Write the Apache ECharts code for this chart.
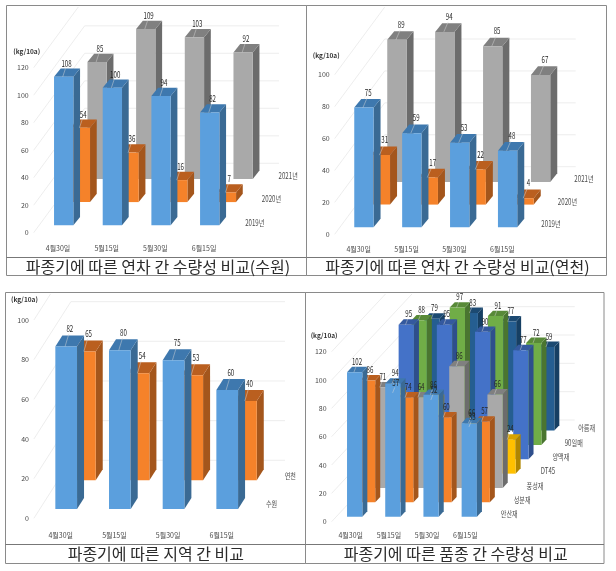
<!DOCTYPE html>
<html><head><meta charset="utf-8">
<style>html,body{margin:0;padding:0;background:#fff}#c{width:616px;height:571px;filter:blur(0.35px)}</style>
<script src="https://cdn.jsdelivr.net/npm/echarts@6/dist/echarts.min.js"></script>
</head><body><div id="c"></div>
<script>
const dates = ['4월30일','5월15일','5월30일','6월15일'];

const suwon2019 = [108,100,94,82];
const suwon2020 = [54,36,16,7];
const suwon2021 = [85,109,103,92];

const yeoncheon2019 = [75,59,53,48];
const yeoncheon2020 = [31,17,22,4];
const yeoncheon2021 = [89,94,85,67];

const regionSuwon = [82,80,75,60];
const regionYeoncheon = [65,54,53,40];

const ansan = [102,94,86,66];
const seongbun = [86,74,60,57];
const pungseong = [71,64,86,66];
const dt45 = [57,52,33,24];
const yangmaek = [95,95,90,77];
const day90 = [88,97,91,72];
const areum = [79,83,77,59];

const C = {
  sky:   ['#5B9FDD','#3A6A94','#3E78AE'],
  orange:['#F5822A','#A4561C','#BA5F1F'],
  gray:  ['#A9A9A9','#6C6C6C','#808080'],
  yellow:['#FFC000','#B08600','#D8A300'],
  blue:  ['#4472C8','#2E4F8C','#34599E'],
  green: ['#70AD47','#4A7530','#588A38'],
  navy:  ['#255E91','#163F63','#1C4A72']
};
const TXT = '#4a4a4a';
const FONT = '"Noto Sans CJK KR","Liberation Sans",sans-serif';

const panels = [
 {title:'파종기에 따른 연차 간 수량성 비교(수원)', cx:158, cy:257.5,
  left:33.7,width:194.7,y0:232.7,yTop:67.7,yMax:120,nameGap:12.7,namePad:14,catMargin:12,
  barW:19.3,barOff:-4,front:-7.4,stepX:16.7,stepY:-23.2,sideX:6.7,sideY:8.3,
  wall:{dx:51,dy:-69.4,right:279,max:100,top:7},lbl:[12.5,-13.5],tag:[54.7,-3],
  rows:[['2021년',suwon2021,C.gray],['2020년',suwon2020,C.orange],['2019년',suwon2019,C.sky]]},
 {title:'파종기에 따른 연차 간 수량성 비교(연천)', cx:457.5, cy:257.5,
  left:334.7,width:191.6,y0:234.3,yTop:74.7,yMax:100,nameGap:16,namePad:17,catMargin:11.5,
  barW:19.3,barOff:-4.4,front:-7,stepX:16.5,stepY:-22.7,sideX:7,sideY:8.6,
  wall:{dx:50,dy:-67.6,right:575.7,max:80,top:7},lbl:[14,-15],tag:[53,-3.3],
  rows:[['2021년',yeoncheon2021,C.gray],['2020년',yeoncheon2020,C.orange],['2019년',yeoncheon2019,C.sky]]},
 {title:'파종기에 따른 지역 간 비교', cx:155.8, cy:544.5,
  left:33.9,width:214.7,y0:518.3,yTop:320,yMax:100,nameGap:17,namePad:19,catMargin:14,
  barW:21.7,barOff:-5.4,front:-9.3,stepX:18.7,stepY:-28.7,sideX:7,sideY:11,
  wall:{dx:37,dy:-58,right:285,max:80,top:294},lbl:[14.5,-17.5],tag:[55.2,-4.8],
  rows:[['연천',regionYeoncheon,C.orange],['수원',regionSuwon,C.sky]]},
 {title:'파종기에 따른 품종 간 수량성 비교', cx:455.7, cy:544.5,
  left:331.6,width:152.8,y0:521.7,yTop:351.7,yMax:120,nameGap:13,namePad:15,catMargin:10.5,
  barW:15.3,barOff:-3.67,front:-5,stepX:12.9,stepY:-14.35,sideX:5,sideY:5.4,
  wall:{dx:95,dy:-101.7,right:574.7,max:80,top:294},lbl:[10,-10.5],tag:[47.6,-2.5],
  rows:[['아름재',areum,C.navy],['90일매',day90,C.green],['양맥재',yangmaek,C.blue],
        ['DT45',dt45,C.yellow],['풍성재',pungseong,C.gray],['성분재',seongbun,C.orange],['안산재',ansan,C.sky]]}
];

const grids=[],xAxes=[],yAxes=[],series=[],titles=[];
const tickValues = m => { const a=[]; for(let v=0;v<=m;v+=20) a.push(v); return a; };
const squeezed=(text,x,y,size,fill)=>({type:'text',x,y,scaleX:0.72,style:{text,x:0,y:0,align:'center',verticalAlign:'middle',fontSize:size,fontFamily:FONT,fill}});

panels.forEach((p,pi)=>{
  grids.push({left:p.left,top:p.yTop,width:p.width,height:p.y0-p.yTop});
  xAxes.push({type:'category',gridIndex:pi,data:dates,boundaryGap:true,
    axisLine:{show:false},axisTick:{show:false},splitLine:{show:false},
    axisLabel:{color:TXT,fontSize:7,margin:p.catMargin,fontFamily:FONT,interval:0}});
  yAxes.push({type:'value',gridIndex:pi,min:0,max:p.yMax,interval:20,
    axisLine:{show:false},axisTick:{show:false},splitLine:{show:false},
    axisLabel:{color:TXT,fontSize:7,margin:5,fontFamily:FONT},
    name:'(kg/10a)',nameLocation:'end',nameGap:p.nameGap,
    nameTextStyle:{color:'#333',fontSize:6.5,fontWeight:'bold',fontFamily:FONT,align:'center',padding:[0,p.namePad,0,0]}});
  titles.push({text:p.title,left:p.cx,top:p.cy,textAlign:'center',padding:0,
    textStyle:{fontSize:16,fontWeight:'normal',color:'#2b2b2b',fontFamily:FONT,lineHeight:18}});

  series.push({type:'custom',xAxisIndex:pi,yAxisIndex:pi,silent:true,z:1,
    data:tickValues(p.yMax).map(v=>[0,v]),
    renderItem(params,api){
      const v=api.value(1), y=api.coord([0,v])[1], w=p.wall;
      const sx=p.left;
      let ex=sx+w.dx, ey=y+w.dy;
      const kids=[];
      if(ey<w.top){ const t=(y-w.top)/(-w.dy); ex=sx+w.dx*t; ey=w.top; }
      kids.push({type:'line',shape:{x1:sx,y1:y,x2:ex,y2:ey},style:{stroke:'#e9e9e9',lineWidth:0.8,fill:null}});
      if(v<=w.max) kids.push({type:'line',shape:{x1:ex,y1:ey,x2:w.right,y2:ey},style:{stroke:'#e9e9e9',lineWidth:0.8,fill:null}});
      return {type:'group',children:kids};
    }});

  const n=p.rows.length;
  const geom=(api,depth)=>{
    const i=api.value(0), v=api.value(1);
    const tp=api.coord([i,v]), bt=api.coord([i,0]);
    const x0=tp[0]+p.barOff+depth*p.stepX, shift=p.front+depth*p.stepY;
    return {i,v,x0,x1:x0+p.barW,yt:tp[1]+shift,yb:bt[1]+shift};
  };
  p.rows.forEach((row,ri)=>{
    const depth=n-1-ri, [name,vals,col]=row;
    series.push({type:'custom',name:name,xAxisIndex:pi,yAxisIndex:pi,z:2,silent:true,
      encode:{x:0,y:1},data:vals.map((v,i)=>[i,v]),
      renderItem(params,api){
        const {x0,x1,yt,yb}=geom(api,depth), sx=p.sideX, sy=p.sideY;
        return {type:'group',children:[
          {type:'polygon',shape:{points:[[x1,yt],[x1+sx,yt-sy],[x1+sx,yb-sy],[x1,yb]]},style:{fill:col[1]}},
          {type:'polygon',shape:{points:[[x0,yt],[x1,yt],[x1+sx,yt-sy],[x0+sx,yt-sy]]},style:{fill:col[2]}},
          {type:'rect',shape:{x:x0,y:yt,width:p.barW,height:yb-yt},style:{fill:col[0]}}
        ]};
      }});
  });
  p.rows.forEach((row,ri)=>{
    const depth=n-1-ri, [name,vals]=row;
    series.push({type:'custom',xAxisIndex:pi,yAxisIndex:pi,z:5,silent:true,
      encode:{x:0,y:1},data:vals.map((v,i)=>[i,v]),
      renderItem(params,api){
        const {i,v,x0,yt,yb}=geom(api,depth);
        const lx=x0+p.lbl[0], ly=yt+p.lbl[1];
        const kids=[
          {type:'line',shape:{x1:x0+p.barW*0.45,y1:yt,x2:lx-1,y2:ly+5},style:{stroke:'rgba(215,215,215,.8)',lineWidth:0.6,fill:null}},
          squeezed(String(v),lx,ly,8.5,'#262626')
        ];
        if(i===vals.length-1) kids.push(squeezed(name,x0+p.tag[0],yb+p.tag[1],8.5,TXT));
        return {type:'group',children:kids};
      }});
  });
});

const frame=(x,y,w,h,cap)=>[
  {type:'rect',z:0,shape:{x,y,width:w,height:h},style:{fill:null,stroke:'#8a8a8a',lineWidth:1}},
  {type:'line',z:0,shape:{x1:x,y1:cap,x2:x+w,y2:cap},style:{stroke:'#777',lineWidth:1}}
];

const chart=echarts.init(document.getElementById('c'),null,{renderer:'canvas'});
chart.setOption({
  animation:false,backgroundColor:'#fff',
  title:titles,grid:grids,xAxis:xAxes,yAxis:yAxes,series,
  graphic:{elements:[
    ...frame(6.5,5.5,300,270,257.5),
    ...frame(306.5,5.5,300,270,257.5),
    ...frame(5.5,292.5,300,271,544.5),
    ...frame(305.5,292.5,298.5,271,544.5)
  ]}
});
</script></body></html>
